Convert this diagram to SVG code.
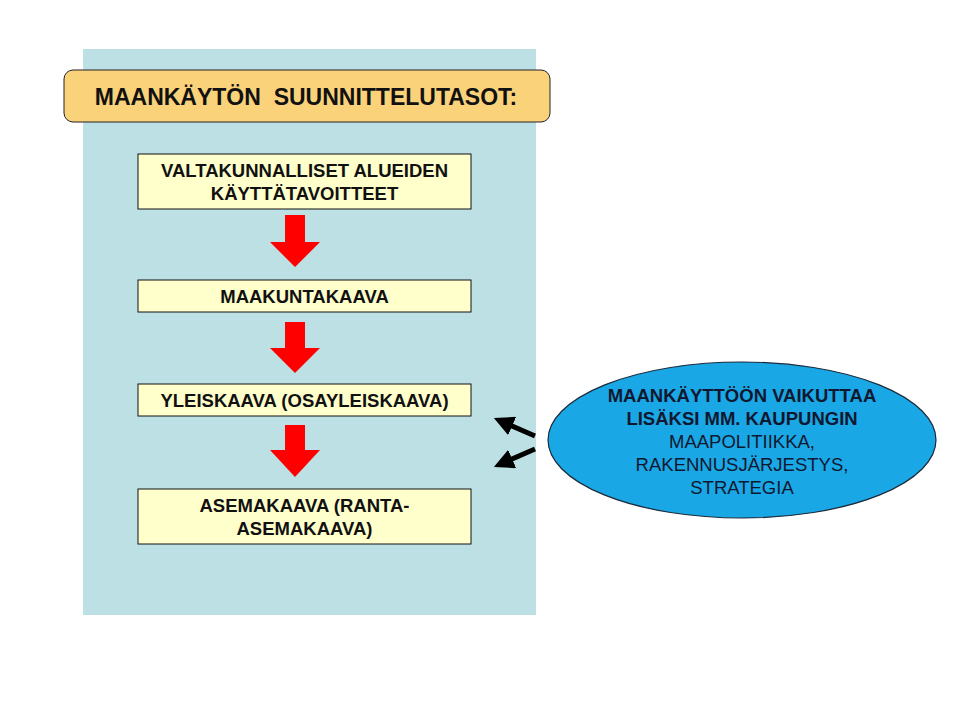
<svg xmlns="http://www.w3.org/2000/svg" width="960" height="720" viewBox="0 0 960 720">
<defs>
<style>
.t{font-family:"Liberation Sans",Arial,sans-serif;font-weight:bold;font-size:18.5px;fill:#111;text-anchor:middle}
.box{fill:#FFFFCC;stroke:#111;stroke-width:1}
.e{font-family:"Liberation Sans",Arial,sans-serif;font-size:18.5px;fill:#101830;text-anchor:middle}
.red{fill:#FF0000}
</style>
<marker id="ah" markerWidth="4" markerHeight="4" refX="2" refY="2" orient="auto" markerUnits="strokeWidth">
<path d="M0,0 L4,2 L0,4 Z" fill="#000"/>
</marker>
</defs>
<rect width="960" height="720" fill="#fff"/>
<rect id="panel" x="83" y="49" width="453" height="566" fill="#BCE0E3"/>
<g id="title">
<rect x="64" y="70" width="486" height="52" rx="9" fill="#FAD27A" stroke="#222" stroke-width="1"/>
<text class="t" x="306" y="105" style="font-size:23px;white-space:pre" xml:space="preserve">MAANKÄYTÖN  SUUNNITTELUTASOT:</text>
</g>
<g id="n1">
<rect class="box" x="138" y="154" width="333" height="55"/>
<text class="t" x="304.500" y="177">VALTAKUNNALLISET ALUEIDEN</text>
<text class="t" x="304.500" y="200">KÄYTTÄTAVOITTEET</text>
</g>
<g id="n2">
<rect class="box" x="138" y="280" width="333" height="32"/>
<text class="t" x="304.500" y="302.500">MAAKUNTAKAAVA</text>
</g>
<g id="n3">
<rect class="box" x="138" y="384" width="333" height="32"/>
<text class="t" x="304.500" y="406.500">YLEISKAAVA (OSAYLEISKAAVA)</text>
</g>
<g id="n4">
<rect class="box" x="138" y="489" width="333" height="55"/>
<text class="t" x="304.500" y="512">ASEMAKAAVA (RANTA-</text>
<text class="t" x="304.500" y="535">ASEMAKAAVA)</text>
</g>
<g id="n5">
<ellipse cx="742" cy="440" rx="194" ry="78" fill="#1AA7E6" stroke="#1a2a3a" stroke-width="1.2"/>
<text class="e" x="742" y="402" style="font-weight:bold">MAANKÄYTTÖÖN VAIKUTTAA</text>
<text class="e" x="742" y="425" style="font-weight:bold">LISÄKSI MM. KAUPUNGIN</text>
<text class="e" x="742" y="448">MAAPOLITIIKKA,</text>
<text class="e" x="742" y="471">RAKENNUSJÄRJESTYS,</text>
<text class="e" x="742" y="494">STRATEGIA</text>
</g>
<g id="connectors">
<polygon class="red" points="285,215 305,215 305,242 320,242 295,267 270,242 285,242"/>
<polygon class="red" points="285,322 305,322 305,348 320,348 295,373 270,348 285,348"/>
<polygon class="red" points="285,425 305,425 305,450 320,450 295,477 270,450 285,450"/>
<line x1="535" y1="436" x2="503" y2="422" stroke="#000" stroke-width="5" marker-end="url(#ah)"/>
<line x1="535" y1="449" x2="503" y2="463" stroke="#000" stroke-width="5" marker-end="url(#ah)"/>
</g>
</svg>
